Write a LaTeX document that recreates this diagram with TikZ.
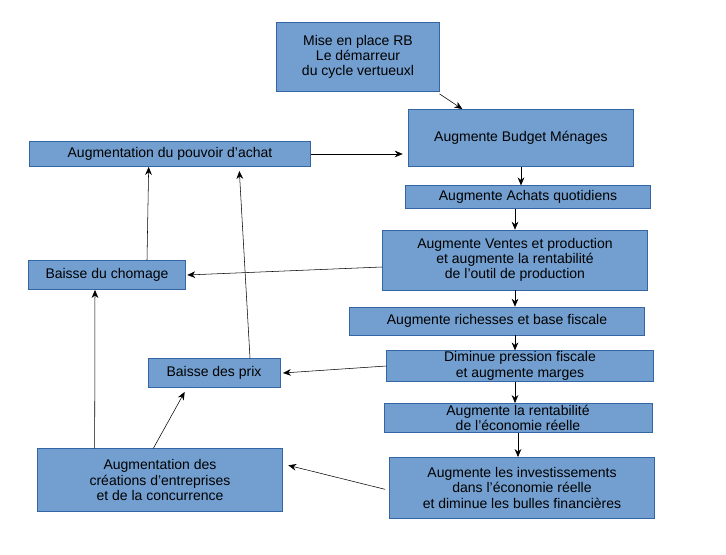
\documentclass[tikz,border=0pt]{standalone}
\usepackage{fontspec}
\setmainfont{Liberation Sans}
\usetikzlibrary{arrows.meta}
\definecolor{boxfill}{HTML}{729FCF}
\definecolor{boxline}{HTML}{3465A4}
\begin{document}
\begin{tikzpicture}[
  x=0.75pt, y=-0.75pt,
  box/.style={draw=boxline, fill=boxfill, align=center, inner sep=0pt,
    font=\fontsize{10.5}{11.5}\selectfont},
  arr/.style={-{Stealth[length=6pt,width=5pt]}, thin}]
\useasboundingbox (0,0) rectangle (726,555);
% chaine principale
\node[box, minimum width=122pt, minimum height=52pt] (rb) at (358,57) {Mise en place RB\\Le démarreur\\du cycle vertueuxl};
\node[box, minimum width=169pt, minimum height=43pt] (budget) at (521,138) {Augmente Budget Ménages};
\node[box, minimum width=184pt, minimum height=17pt] (achats) at (528,197) {Augmente Achats quotidiens};
\node[box, minimum width=199pt, minimum height=45pt] (ventes) at (515,260) {Augmente Ventes et production\\et augmente la rentabilité\\de l'outil de production};
\node[box, minimum width=221pt, minimum height=21pt] (richesses) at (497,321) {Augmente richesses et base fiscale};
\node[box, minimum width=200pt, minimum height=23pt] (pression) at (520,366) {Diminue pression fiscale\\et augmente marges};
\node[box, minimum width=201pt, minimum height=22pt] (rentab) at (518,418) {Augmente la rentabilité\\de l'économie réelle};
\node[box, minimum width=199pt, minimum height=46pt] (invest) at (522,488) {Augmente les investissements\\dans l'économie réelle\\et diminue les bulles financières};
% effets
\node[box, minimum width=184pt, minimum height=47pt] (creations) at (160,480) {Augmentation des\\créations d'entreprises\\et de la concurrence};
\node[box, minimum width=99pt, minimum height=22pt] (prix) at (214,373) {Baisse des prix};
\node[box, minimum width=118pt, minimum height=22pt] (chomage) at (107,275) {Baisse du chomage};
\node[box, minimum width=211pt, minimum height=19pt] (pouvoir) at (170,154) {Augmentation du pouvoir d'achat};

\draw[arr] (rb.south east) ++(0,2) -- ([xshift=-44pt]budget.north);
\draw[arr] (pouvoir) -- ([xshift=-4pt]budget.west |- pouvoir);
\draw[arr] (budget.south) -- (budget.south |- achats.north);
\draw[arr] (ventes.north |- achats.south) -- (ventes.north);
\draw[arr] (ventes.south) -- (ventes.south |- richesses.north);
\draw[arr] (ventes.south |- richesses.south) -- (ventes.south |- pression.north);
\draw[arr] (ventes.south |- pression.south) -- (ventes.south |- rentab.north);
\draw[arr] (rentab.south) -- (rentab.south |- invest.north);
\draw[arr] (ventes.west) ++(0,7) -- ([xshift=1pt]chomage.east);
\draw[arr] ([xshift=30pt]chomage.north) -- ([xshift=-16pt]pouvoir.south);
\draw[arr] ([xshift=27pt]prix.north) -- ([xshift=52pt,yshift=-3pt]pouvoir.south);
\draw[arr] (pression.west) -- ([xshift=2pt]prix.east);
\draw[arr] ([xshift=-3pt,yshift=-1pt]invest.west) -- ([xshift=4pt,yshift=11pt]creations.east);
\draw[arr] ([xshift=-49pt]creations.north) -- ([xshift=-9pt]chomage.south);
\draw[arr] ([xshift=-5pt]creations.north) -- ([xshift=-22pt,yshift=-3pt]prix.south);
\end{tikzpicture}
\end{document}
